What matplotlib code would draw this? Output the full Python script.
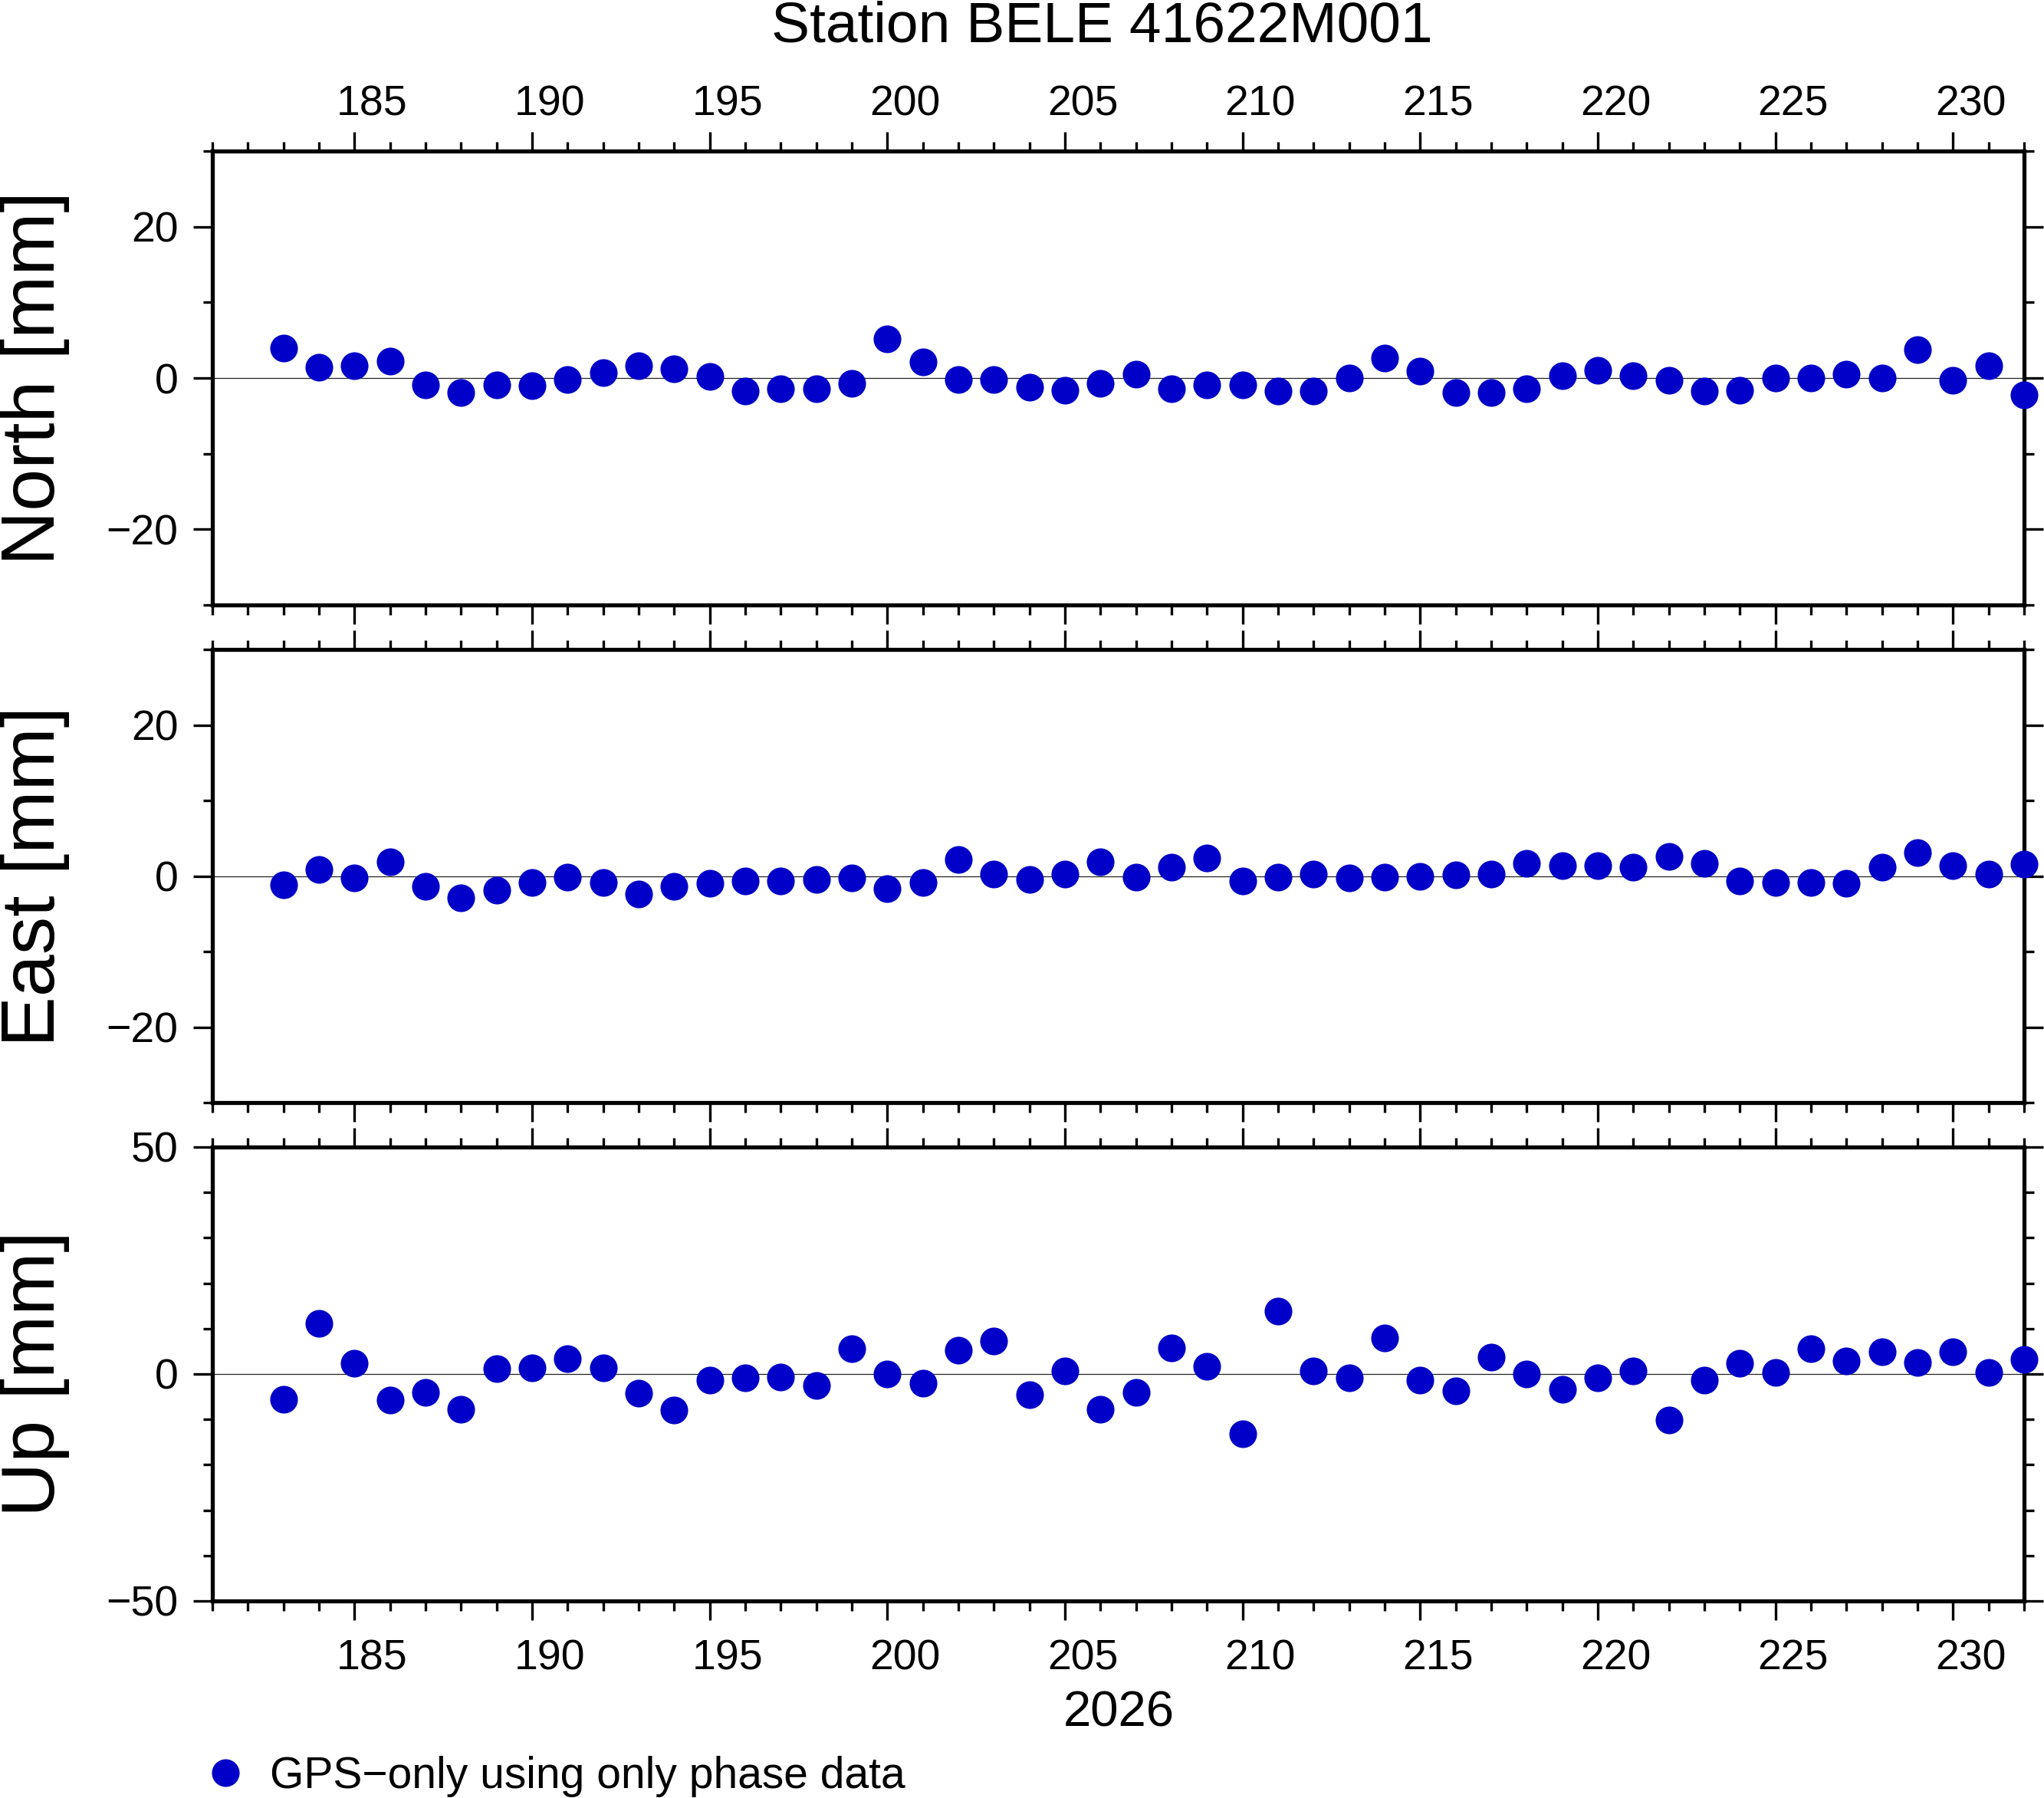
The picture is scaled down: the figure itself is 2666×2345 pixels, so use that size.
import matplotlib
matplotlib.use("Agg")
import matplotlib.pyplot as plt
from matplotlib.transforms import ScaledTranslation
import numpy as np

plt.rcParams['font.family'] = ['Liberation Sans', 'DejaVu Sans']

days = list(range(183, 233))

north = [4.0, 1.4, 1.6, 2.2, -0.9, -1.9, -0.9, -1.0, -0.2, 0.7,
         1.6, 1.2, 0.2, -1.7, -1.4, -1.4, -0.7, 5.2, 2.1, -0.2,
         -0.2, -1.2, -1.6, -0.7, 0.5, -1.4, -0.9, -0.9, -1.7, -1.7,
         0.0, 2.6, 0.9, -1.9, -1.9, -1.4, 0.3, 1.0, 0.3, -0.3,
         -1.7, -1.6, 0.0, 0.0, 0.5, 0.0, 3.8, -0.3, 1.6, -2.2]

east = [-1.2, 0.9, -0.3, 1.9, -1.4, -2.9, -1.9, -0.9, -0.2, -0.9,
        -2.4, -1.4, -1.0, -0.7, -0.7, -0.5, -0.3, -1.7, -0.9, 2.2,
        0.3, -0.5, 0.3, 1.9, -0.2, 1.2, 2.4, -0.7, -0.2, 0.3,
        -0.3, -0.2, 0.0, 0.2, 0.3, 1.7, 1.4, 1.4, 1.2, 2.6,
        1.7, -0.7, -0.9, -0.9, -1.0, 1.2, 3.1, 1.4, 0.3, 1.6]

up = [-5.5, 11.2, 2.3, -5.7, -4.0, -7.8, 1.1, 1.4, 3.4, 1.4,
      -4.3, -8.0, -1.4, -0.9, -0.6, -2.6, 5.5, 0.0, -2.0, 5.2,
      7.2, -4.6, 0.6, -7.8, -4.0, 5.7, 1.7, -13.2, 13.8, 0.6,
      -0.9, 8.0, -1.4, -3.7, 3.7, 0.0, -3.4, -0.9, 0.6, -10.1,
      -1.4, 2.3, 0.3, 5.5, 2.9, 4.9, 2.6, 4.9, 0.3, 3.2]

x_major = list(range(185, 231, 5))
x_labels = [str(v) for v in x_major]
title = "Station BELE 41622M001"
year_label = "2026"
legend_label = "GPS\u2212only using only phase data"
panel_names = ["North [mm]", "East [mm]", "Up [mm]"]
ylims = [(-30, 30), (-30, 30), (-50, 50)]
y_major = [[-20, 0, 20], [-20, 0, 20], [-50, 0, 50]]
y_minor_step = [10, 10, 10]

W, H = 2666, 2345
fig = plt.figure(figsize=(W / 100, H / 100), dpi=100)

left, right = 277 / W, 2640 / W
panels_px = [(197, 789), (847, 1438), (1496, 2088)]
color = '#0000c8'
series = [north, east, up]
xlim = (181, 232)

axes = []
for i, ((t, b), vals) in enumerate(zip(panels_px, series)):
    ax = fig.add_axes([left, 1 - b / H, right - left, (b - t) / H])
    axes.append(ax)
    ax.axhline(0, color='#222222', lw=0.9, zorder=1)
    line, = ax.plot(days, vals, 'o', color=color, markersize=26, mec='none',
                    clip_on=False, zorder=3, label=legend_label)
    ax.set_xlim(*xlim)
    ax.set_ylim(*ylims[i])
    ax.set_xticks(x_major)
    ax.set_xticks(range(xlim[0], xlim[1] + 1), minor=True)
    ax.set_yticks(y_major[i])
    ax.set_yticks(np.arange(ylims[i][0], ylims[i][1] + 1, y_minor_step[i]), minor=True)
    for s in ax.spines.values():
        s.set_linewidth(3.8)
    ax.tick_params(which='both', direction='out', top=True, right=True,
                   width=2.4, labelsize=40)
    ax.tick_params(which='major', length=18)
    ax.tick_params(which='minor', length=9)
    ax.tick_params(axis='y', which='major', pad=14)
    if i == 0:
        ax.tick_params(axis='x', which='major', pad=7)
        ax.tick_params(axis='x', labeltop=True, labelbottom=False)
        ax.set_xticklabels(x_labels)
    elif i == 2:
        ax.tick_params(axis='x', which='major', pad=18)
        ax.tick_params(axis='x', labeltop=False, labelbottom=True)
        ax.set_xticklabels(x_labels)
    else:
        ax.tick_params(axis='x', labeltop=False, labelbottom=False)
    # GMT-style interval annotation: label centred on the day
    ax_w_in = (right - left) * W / 100
    dx = 0.5 * ax_w_in / (xlim[1] - xlim[0])
    off = ScaledTranslation(dx, 0, fig.dpi_scale_trans)
    for tk in ax.xaxis.get_major_ticks():
        tk.label1.set_transform(tk.label1.get_transform() + off)
        tk.label2.set_transform(tk.label2.get_transform() + off)
    yc = 1 - (t + b) / 2 / H
    fig.text(0.017, yc, panel_names[i], rotation=90, ha='center', va='center',
             fontsize=71)

fig.text(0.539, 1 - 35 / H, title, ha='center', va='center', fontsize=54)
fig.text(1459 / W, 1 - 2234 / H, year_label, ha='center', va='center', fontsize=47)

fig.legend(handles=[line], labels=[legend_label], loc='center left',
           bbox_to_anchor=(left, 1 - 2317 / H), frameon=False, borderpad=0,
           borderaxespad=0, handlelength=0.6, handletextpad=0.72, fontsize=41,
           markerscale=1.0)

fig.savefig('out.png', dpi=100)
